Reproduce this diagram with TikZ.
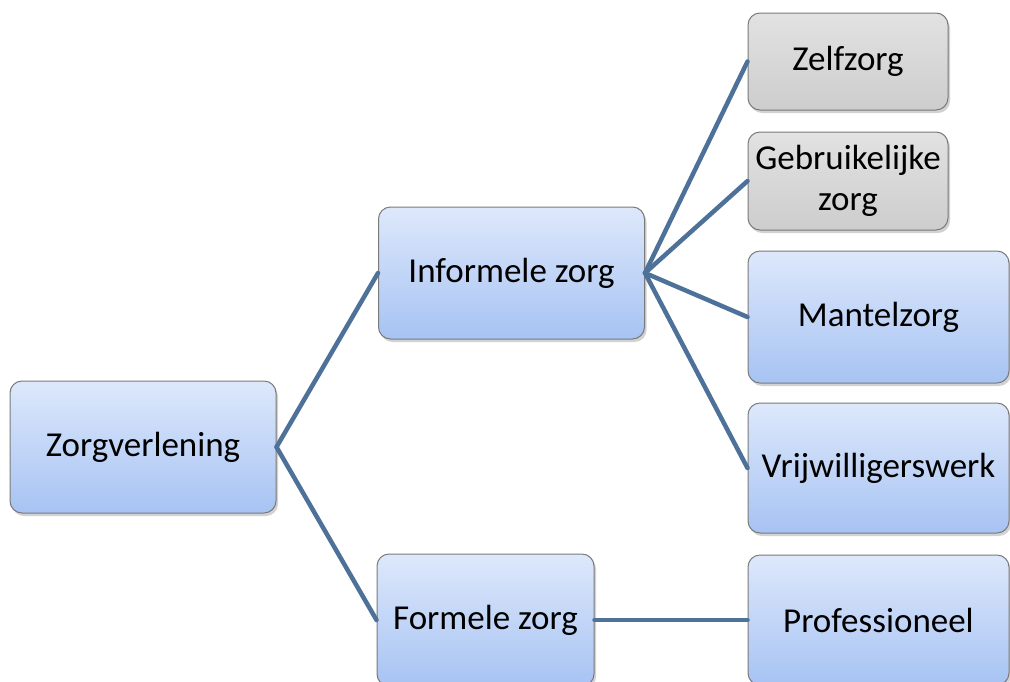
\documentclass[tikz,border=0pt]{standalone}
\usepackage{fontspec}
\setmainfont{Carlito}
\usetikzlibrary{shadows}
\definecolor{boxtop}{HTML}{DDE8FB}
\definecolor{boxbot}{HTML}{A7C3F3}
\definecolor{graytop}{HTML}{E2E2E2}
\definecolor{graybot}{HTML}{CDCDCD}
\definecolor{edgecol}{HTML}{7A7A7A}
\definecolor{linkcol}{HTML}{4D7199}
\tikzset{
  bluebox/.style={draw=edgecol, line width=1pt, rounded corners=12pt,
    top color=boxtop, bottom color=boxbot, align=center,
    font=\fontsize{35}{41}\selectfont, inner sep=0pt,
    drop shadow={shadow xshift=2pt, shadow yshift=-3pt, opacity=0.35}},
  graybox/.style={bluebox, top color=graytop, bottom color=graybot},
  link/.style={draw=linkcol, line width=4.5pt, line cap=round, line join=round}
}
\begin{document}
\begin{tikzpicture}[x=1pt,y=-1pt]
\clip (0,0) rectangle (1010,681);
\fill[white] (0,0) rectangle (1010,681);
\node[bluebox, minimum width=266pt, minimum height=132pt] (zv) at (143,447) {Zorgverlening};
\node[bluebox, minimum width=266pt, minimum height=132pt] (inf) at (511.5,273) {Informele zorg};
\node[bluebox, minimum width=217pt, minimum height=132pt] (form) at (485.5,620) {Formele zorg};
\node[graybox, minimum width=200pt, minimum height=97pt] (zelf) at (848,61.5) {Zelfzorg};
\node[graybox, minimum width=200pt, minimum height=98pt] (gebr) at (848,181) {Gebruikelijke\\zorg};
\node[bluebox, minimum width=261pt, minimum height=132pt] (mant) at (878.5,317) {Mantelzorg};
\node[bluebox, minimum width=261pt, minimum height=130pt] (vrij) at (878.5,468) {Vrijwilligerswerk};
\node[bluebox, minimum width=261pt, minimum height=130pt] (prof) at (878.5,620) {Professioneel};
\draw[link] (zv.east) -- (inf.west);
\draw[link] (zv.east) -- (form.west);
\draw[link] (inf.east) -- (zelf.west);
\draw[link] (inf.east) -- (gebr.west);
\draw[link] (inf.east) -- (mant.west);
\draw[link] (inf.east) -- (vrij.west);
\draw[link] (form.east) -- (prof.west);
\end{tikzpicture}
\end{document}
